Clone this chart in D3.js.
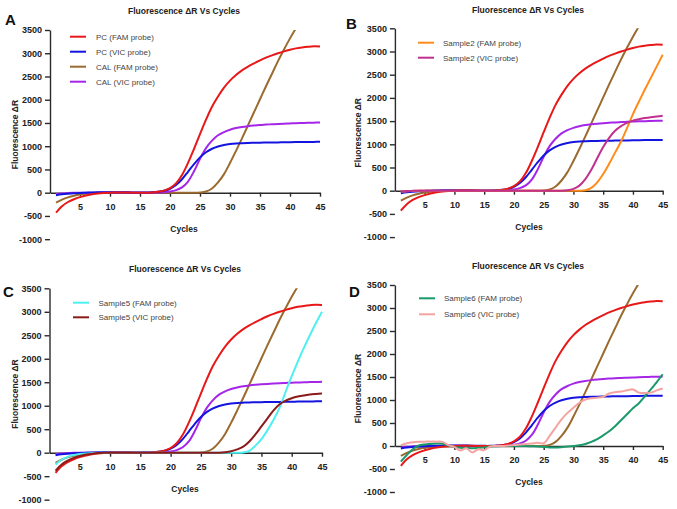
<!DOCTYPE html>
<html>
<head>
<meta charset="utf-8">
<script src="https://cdn.jsdelivr.net/npm/d3@7"></script>
<style>
  body { margin: 0; background: #fff; }
  svg { display: block; font-family: "Liberation Sans", Arial, sans-serif; }
</style>
</head>
<body>
<svg id="chart" width="677" height="509"></svg>
<script>
// cycle numbers on the x axis
var cycles = d3.range(1, 46);
var xTicks = [5, 10, 15, 20, 25, 30, 35, 40, 45];
var yTicks = [-1000, -500, 0, 500, 1000, 1500, 2000, 2500, 3000, 3500];

// controls, shown in every panel (delta R per cycle)
var pcFam = [-430, -290, -200, -140, -95, -60, -35, -15, -5, 0,
  5, 5, 5, 0, 0, 0, 5, 18, 45, 100,
  200, 380, 640, 940, 1260, 1570, 1850, 2070, 2260, 2410,
  2530, 2630, 2710, 2780, 2845, 2905, 2955, 3000, 3040, 3075,
  3105, 3125, 3140, 3150, 3145];
var pcVic = [-55, -35, -22, -12, -5, 0, 5, 8, 10, 10,
  10, 10, 8, 5, 3, 3, 8, 18, 40, 85,
  165, 290, 450, 615, 760, 870, 945, 995, 1028, 1048,
  1060, 1066, 1070, 1073, 1076, 1078, 1080, 1082, 1084, 1086,
  1088, 1090, 1092, 1093, 1095];
var calFam = [-215, -150, -100, -65, -40, -25, -15, -8, -3, 0,
  0, 0, 0, 0, 0, 0, 0, 0, 0, 0,
  0, 0, 0, 0, 5, 25, 90, 220, 400, 640,
  900, 1170, 1450, 1730, 2010, 2290, 2560, 2830, 3080, 3320,
  3540];
var calVic = [-30, -15, -8, -3, 0, 0, 0, 2, 3, 3,
  3, 3, 2, 0, 0, 0, 0, 2, 10, 25,
  55, 115, 240, 460, 730, 960, 1120, 1235, 1305, 1355,
  1390, 1415, 1432, 1445, 1456, 1465, 1472, 1479, 1485, 1490,
  1495, 1499, 1503, 1506, 1510];

// samples
var sample2Fam = [-20, -10, -5, 0, 0, 0, 0, 0, 0, 0,
  0, 0, 0, 0, 0, 0, 0, 0, 0, 0,
  0, 0, 0, 0, 0, 0, 0, 0, 0, 0,
  0, 10, 60, 180, 360, 580, 820, 1060, 1350, 1650,
  1920, 2180, 2430, 2680, 2930];
var sample2Vic = [-15, -8, -3, 0, 0, 0, 0, 0, 0, 0,
  0, 0, 0, 0, 0, 0, 0, 0, 0, 0,
  0, 0, 0, 0, 0, 0, 0, 0, 10, 40,
  110, 250, 450, 700, 940, 1140, 1290, 1390, 1460, 1510,
  1540, 1565, 1585, 1600, 1615];
var sample5Fam = [-250, -150, -90, -50, -30, -15, -8, -3, 0, 0,
  0, 0, 0, 0, 0, 0, 0, 0, 0, 0,
  0, 0, 0, 0, 0, 0, 0, 0, 0, 0,
  0, 5, 40, 150, 290, 480, 700, 960, 1300, 1630,
  1940, 2230, 2500, 2760, 3000];
var sample5Vic = [-380, -250, -170, -110, -70, -40, -20, -8, -2, 0,
  0, 0, 0, 0, 0, 0, 0, 0, 0, 0,
  0, 0, 0, 0, 0, 0, 0, 0, 10, 30,
  70, 130, 240, 390, 560, 730, 900, 1030, 1110, 1160,
  1195, 1220, 1238, 1250, 1260];
var sample6Fam = [-340, -195, -70, 10, 35, 45, 55, 50, 10, -20,
  -40, -40, -50, -40, -30, -10, -5, 0, 0, 0,
  0, 0, -5, -10, -20, -30, -35, -25, -10, 0,
  15, 45, 90, 150, 230, 320, 430, 560, 690, 820,
  930, 1080, 1230, 1390, 1560];
var sample6Vic = [20, 60, 80, 90, 95, 95, 95, 90, 20, -20,
  -100, -50, -140, -70, -90, -10, 0, 0, 10, 20,
  30, 45, 55, 70, 60, 220, 400, 580, 720, 830,
  940, 1010, 1040, 1050, 1070, 1140, 1170, 1185, 1210, 1230,
  1160, 1150, 1160, 1210, 1250];

var controls = [
  {name: "CAL (FAM probe)", values: calFam, color: "#9b6a2f"},
  {name: "CAL (VIC probe)", values: calVic, color: "#a526e8"},
  {name: "PC (VIC probe)", values: pcVic, color: "#1414e0"},
  {name: "PC (FAM probe)", values: pcFam, color: "#e81818"}
];

var panels = [
  {letter: "A", lx: 5, ly: 25, x0: 50, x1: 320, yTop: 30, yZero: 192.7,
    title: [184, 14], xlab: [184, 232], ylab: 15,
    legend: {x: 70, y: 36.7, step: 15, tx: 96},
    extra: [],
    keys: [controls[3], controls[2], controls[0], controls[1]]},
  {letter: "B", lx: 346, ly: 29, x0: 394.9, x1: 662.7, yTop: 28.3, yZero: 190.7,
    title: [528, 13], xlab: [529, 230], ylab: 358,
    legend: {x: 418, y: 42.7, step: 15, tx: 443},
    extra: [{name: "Sample2 (FAM probe)", values: sample2Fam, color: "#ff8c1a"},
            {name: "Sample2 (VIC probe)", values: sample2Vic, color: "#c2308f"}]},
  {letter: "C", lx: 3, ly: 297, x0: 49.5, x1: 322, yTop: 288.3, yZero: 452.7,
    title: [185, 272], xlab: [185, 492], ylab: 15,
    legend: {x: 73, y: 302.7, step: 14.6, tx: 98.5},
    extra: [{name: "Sample5 (FAM probe)", values: sample5Fam, color: "#4ff0f0"},
            {name: "Sample5 (VIC probe)", values: sample5Vic, color: "#8b1a1a"}]},
  {letter: "D", lx: 349, ly: 297, x0: 394.9, x1: 662.7, yTop: 285, yZero: 446,
    title: [528, 269], xlab: [529, 485], ylab: 358,
    legend: {x: 419, y: 298.3, step: 16, tx: 444},
    extra: [{name: "Sample6 (FAM probe)", values: sample6Fam, color: "#1a9a6a"},
            {name: "Sample6 (VIC probe)", values: sample6Vic, color: "#f4a3a0"}]}
];

var svg = d3.select("#chart");
var plain = function(d) { return String(d); };

panels.forEach(function(p, i) {
  var x = d3.scaleLinear().domain([0, 45]).range([p.x0, p.x1]);
  var y = d3.scaleLinear().domain([0, 3500]).range([p.yZero, p.yTop]);
  var g = svg.append("g");

  g.append("clipPath").attr("id", "clip" + i)
    .append("rect")
    .attr("x", x(0)).attr("y", y(3500))
    .attr("width", x(45) - x(0) + 4).attr("height", y(-1000) - y(3500));

  // y axis
  var ya = g.append("g")
    .attr("transform", "translate(" + x(0) + ",0)")
    .call(d3.axisLeft(y).tickValues(yTicks).tickFormat(plain)
      .tickSize(5).tickSizeOuter(0).tickPadding(3));
  // x axis through zero
  var xa = g.append("g")
    .attr("transform", "translate(0," + y(0) + ")")
    .call(d3.axisBottom(x).tickValues(xTicks).tickFormat(plain)
      .tickSize(4).tickSizeOuter(0).tickPadding(6.5));

  [ya, xa].forEach(function(a) {
    a.selectAll("path, line").attr("stroke", "#2a2a2a").attr("stroke-width", 1.4);
    a.selectAll("text").attr("fill", "#222").style("font-size", "9px").style("font-weight", "bold");
  });

  var line = d3.line()
    .x(function(d) { return x(d.c); })
    .y(function(d) { return y(d.v); })
    .curve(d3.curveCatmullRom.alpha(0.5));

  var series = controls.concat(p.extra);
  g.append("g").attr("clip-path", "url(#clip" + i + ")")
    .selectAll("path")
    .data(series)
    .enter().append("path")
    .attr("fill", "none")
    .attr("stroke", function(d) { return d.color; })
    .attr("stroke-width", 2)
    .attr("d", function(d) {
      return line(d.values.map(function(v, k) { return {c: cycles[k], v: v}; }));
    });

  // titles and labels
  g.append("text")
    .attr("x", p.title[0]).attr("y", p.title[1])
    .attr("text-anchor", "middle")
    .style("font-size", "8.5px").style("font-weight", "bold").attr("fill", "#222")
    .text("Fluorescence ΔR Vs Cycles");
  g.append("text")
    .attr("x", p.xlab[0]).attr("y", p.xlab[1])
    .attr("text-anchor", "middle")
    .style("font-size", "8.5px").style("font-weight", "bold").attr("fill", "#222")
    .text("Cycles");
  g.append("text")
    .attr("transform", "translate(" + (p.ylab + 3) + "," + ((y(3500) + y(-1000)) / 2) + ") rotate(-90)")
    .attr("text-anchor", "middle")
    .style("font-size", "8.5px").style("font-weight", "bold").attr("fill", "#222")
    .text("Fluorescence ΔR");
  g.append("text")
    .attr("x", p.lx).attr("y", p.ly)
    .style("font-size", "15px").style("font-weight", "bold").attr("fill", "#111")
    .text(p.letter);

  // legend
  var keys = p.keys || p.extra;
  var lg = g.selectAll(".key")
    .data(keys)
    .enter().append("g")
    .attr("transform", function(d, k) { return "translate(0," + (p.legend.y + k * p.legend.step) + ")"; });
  lg.append("line")
    .attr("x1", p.legend.x).attr("x2", p.legend.x + 16)
    .attr("stroke", function(d) { return d.color; })
    .attr("stroke-width", 2);
  lg.append("text")
    .attr("x", p.legend.tx).attr("dy", "0.35em")
    .style("font-size", "8px").attr("fill", "#444")
    .text(function(d) { return d.name; });
});
</script>
</body>
</html>
